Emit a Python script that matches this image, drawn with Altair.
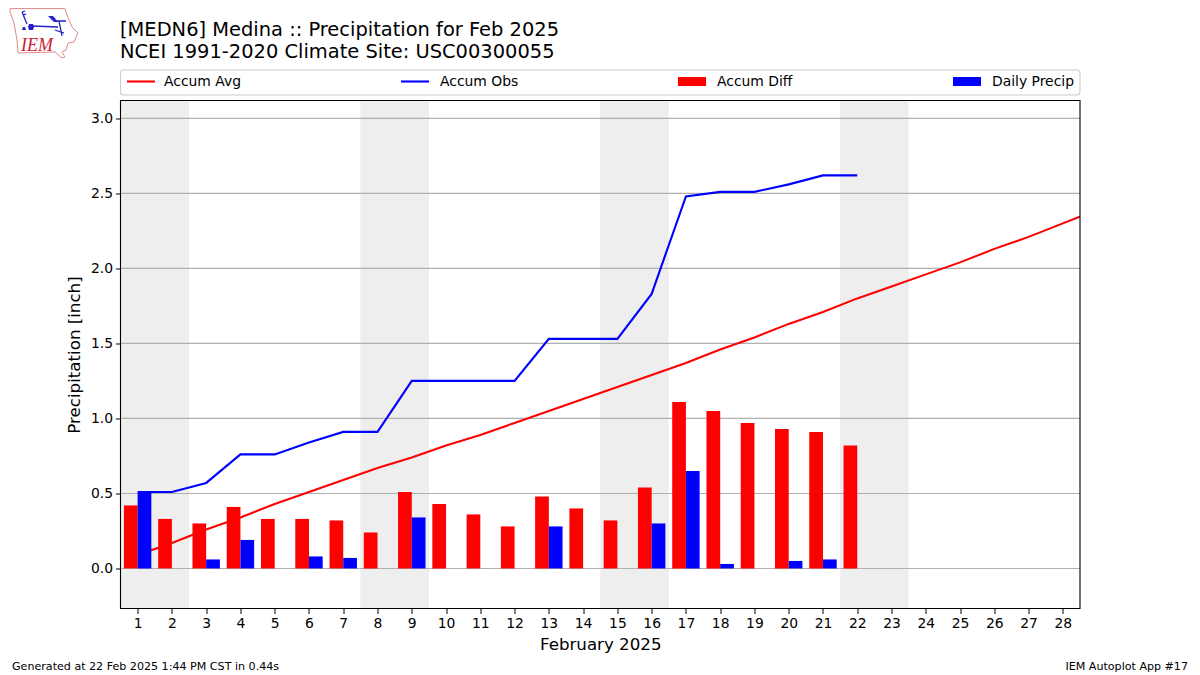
import altair as alt
import pandas as pd

days = list(range(1, 30))
accum_avg = [0.09, 0.17, 0.26, 0.34, 0.43, 0.51, 0.59, 0.67, 0.74, 0.82, 0.89, 0.97, 1.05, 1.13,
             1.21, 1.29, 1.37, 1.46, 1.54, 1.63, 1.71, 1.80, 1.88, 1.96, 2.04, 2.13, 2.21, 2.30, 2.39]
obs_days = list(range(1, 23))
accum_obs = [0.51, 0.51, 0.57, 0.76, 0.76, 0.84, 0.91, 0.91, 1.25, 1.25, 1.25, 1.25, 1.53, 1.53,
             1.53, 1.83, 2.48, 2.51, 2.51, 2.56, 2.62, 2.62]
accum_diff = [0.42, 0.33, 0.30, 0.41, 0.33, 0.33, 0.32, 0.24, 0.51, 0.43, 0.36, 0.28, 0.48, 0.40,
              0.32, 0.54, 1.11, 1.05, 0.97, 0.93, 0.91, 0.82]
daily = [0.51, 0, 0.06, 0.19, 0, 0.08, 0.07, 0, 0.34, 0, 0, 0, 0.28, 0, 0, 0.30, 0.65, 0.03, 0,
         0.05, 0.06, 0]
band_start = [0.5, 7.5, 14.5, 21.5]
band_end = [2.5, 9.5, 16.5, 23.5]
y_ticks = [0, 0.5, 1.0, 1.5, 2.0, 2.5, 3.0]
x_ticks = list(range(1, 29))
title_lines = ["[MEDN6] Medina :: Precipitation for Feb 2025", "NCEI 1991-2020 Climate Site: USC00300055"]
footer_left = "Generated at 22 Feb 2025 1:44 PM CST in 0.44s"
footer_right = "IEM Autoplot App #17"

FONT = "DejaVu Sans"
BAR_W = 0.4
xs = alt.Scale(domain=[0.5, 28.5], nice=False, zero=False)
ys = alt.Scale(domain=[-0.267, 3.119], nice=False, zero=False)

avg_df = pd.DataFrame({"day": days, "v": accum_avg})
obs_df = pd.DataFrame({"day": obs_days, "v": accum_obs})
bar_df = pd.DataFrame({"day": obs_days, "diff": accum_diff, "daily": daily})
bar_df["l"] = bar_df["day"] - BAR_W
bar_df["r"] = bar_df["day"] + BAR_W
band_df = pd.DataFrame({"a": band_start, "b": band_end})
grid_df = pd.DataFrame({"y": y_ticks})
one = pd.DataFrame({"a": [0]})

X_AX = alt.Axis(values=x_ticks, format="d", title="February 2025", grid=False, domain=False,
                tickColor="black", tickSize=5, labelColor="black", labelFontSize=13.9, labelFont=FONT,
                titleFont=FONT, titleFontSize=16.67, titleFontWeight="normal", titleColor="black",
                labelPadding=3, titlePadding=6, labelFlush=False, labelOverlap=False)
Y_AX = alt.Axis(values=y_ticks, format=".1f", title="Precipitation [inch]", grid=False, domain=False,
                tickColor="black", tickSize=5, labelColor="black", labelFontSize=13.9, labelFont=FONT,
                titleFont=FONT, titleFontSize=16.67, titleFontWeight="normal", titleColor="black",
                labelPadding=3, titlePadding=7, labelOverlap=False)

def X(f): return alt.X(f, scale=xs, axis=X_AX)
def Y(f): return alt.Y(f, scale=ys, axis=Y_AX)

bands = alt.Chart(band_df).mark_rect(color="#eeeeee").encode(x=X("a:Q"), x2="b:Q")
grid = alt.Chart(grid_df).mark_rule(color="#b0b0b0", strokeWidth=1.1).encode(y=Y("y:Q"))
avg_line = alt.Chart(avg_df).mark_line(color="#ff0000", strokeWidth=2.1, clip=True).encode(x=X("day:Q"), y=Y("v:Q"))
obs_line = alt.Chart(obs_df).mark_line(color="#0000ff", strokeWidth=2.1, clip=True).encode(x=X("day:Q"), y=Y("v:Q"))
diff_bars = alt.Chart(bar_df).mark_rect(color="#ff0000").encode(
    x=X("l:Q"), x2="day:Q", y=Y("diff:Q"), y2=alt.Y2(datum=0))
daily_bars = alt.Chart(bar_df).mark_rect(color="#0000ff").encode(
    x=X("day:Q"), x2="r:Q", y=Y("daily:Q"), y2=alt.Y2(datum=0))

# pixel offsets relative to the plot's top-left corner
OX, OY = 120.5, 100.5
def px(v): return alt.value(v - OX)
def py(v): return alt.value(v - OY)

decor = [
    alt.Chart(one).mark_rect(fill=None, fillOpacity=0, stroke="black", strokeWidth=1.1).encode(
        x=px(120.5), x2=px(1080), y=py(100.5), y2=py(608.5)),
    alt.Chart(one).mark_rect(fill="white", stroke="#cccccc", strokeWidth=1.1, cornerRadius=3).encode(
        x=px(120.5), x2=px(1080), y=py(70), y2=py(95)),
]
legend_items = [("Accum Avg", "line", "#ff0000", 127, 164), ("Accum Obs", "line", "#0000ff", 401, 440),
                ("Accum Diff", "box", "#ff0000", 678, 717), ("Daily Precip", "box", "#0000ff", 953, 992)]
for name, kind, color, x0, tx in legend_items:
    if kind == "line":
        decor.append(alt.Chart(one).mark_rule(color=color, strokeWidth=2.1).encode(
            x=px(x0), x2=px(x0 + 28), y=py(81.5)))
    else:
        decor.append(alt.Chart(one).mark_rect(color=color).encode(
            x=px(x0), x2=px(x0 + 28), y=py(77), y2=py(86)))
    decor.append(alt.Chart(one).mark_text(text=name, font=FONT, fontSize=13.9, align="left",
                                          baseline="middle", color="black").encode(x=px(tx), y=py(81.5)))
decor.append(alt.Chart(one).mark_text(text=footer_left, font=FONT, fontSize=11.1, align="left",
                                      baseline="middle", color="black").encode(x=px(12), y=py(666.5)))
decor.append(alt.Chart(one).mark_text(text=footer_right, font=FONT, fontSize=11.1, align="right",
                                      baseline="middle", color="black").encode(x=px(1188), y=py(666.5)))
for line, yy in zip(title_lines, [29.5, 51.5]):
    decor.append(alt.Chart(one).mark_text(text=line, font=FONT, fontSize=19.44, align="left",
                                          baseline="middle", color="black").encode(x=px(120), y=py(yy)))

# IEM logo, drawn as custom symbol paths around a centre point
LOGO_CX, LOGO_CY, LOGO_R = 44, 32, 35
def logo_path(segments, close=False):
    out = []
    for seg in segments:
        pts = [f"{(x - LOGO_CX) / LOGO_R:.3f} {(y - LOGO_CY) / LOGO_R:.3f}" for x, y in seg]
        out.append("M" + " L".join(pts) + (" Z" if close else ""))
    return " ".join(out)
iowa_outline = [[(10, 8.6), (65, 8.6), (67, 15), (72, 27), (78, 33), (74, 42), (68, 43), (66, 50), (62, 52),
                 (65, 57), (62, 58), (55, 52), (18, 53), (17, 40), (14, 23), (10, 12), (10, 8.6)]]
blue_strokes = [[(32, 26), (58, 27)], [(56, 21), (66, 21)], [(59, 21), (62, 36)], [(55, 30), (64, 33)],
                [(22, 12), (27, 24)], [(22, 12), (25, 11)], [(23, 15), (26, 14)]]
blue_fills = [[(48, 16), (53, 16), (58, 22), (54, 22)],
              [(29, 24), (33, 24), (34, 27), (33, 30), (29, 30), (28, 27)],
              [(23, 27), (25, 27), (26, 30), (22, 30)]]
size = (2 * LOGO_R) ** 2
decor.append(alt.Chart(one).mark_point(shape=logo_path(iowa_outline), size=size, filled=False, stroke="#e08a8a",
                                       strokeWidth=1, opacity=1).encode(x=px(LOGO_CX), y=py(LOGO_CY)))
decor.append(alt.Chart(one).mark_point(shape=logo_path(blue_strokes), size=size, filled=False, stroke="#2222cc",
                                       strokeWidth=1.3, opacity=1).encode(x=px(LOGO_CX), y=py(LOGO_CY)))
decor.append(alt.Chart(one).mark_point(shape=logo_path(blue_fills, True), size=size, filled=True, fill="#2222cc",
                                       opacity=1).encode(x=px(LOGO_CX), y=py(LOGO_CY)))
decor.append(alt.Chart(one).mark_text(text="IEM", font="Liberation Serif", fontStyle="italic", fontSize=18,
                                      align="left", baseline="middle", color="#d02030").encode(x=px(21), y=py(45.5)))

chart = alt.layer(bands, grid, avg_line, obs_line, diff_bars, daily_bars, *decor).properties(
    width=959.5, height=508,
    autosize=alt.AutoSizeParams(type="none"),
    padding={"left": 112.5, "top": 92.5, "right": 112, "bottom": 63.5},
    background="white",
).configure_view(strokeWidth=0)

chart.save("out.html", embed_options={"renderer": "svg", "actions": False})
